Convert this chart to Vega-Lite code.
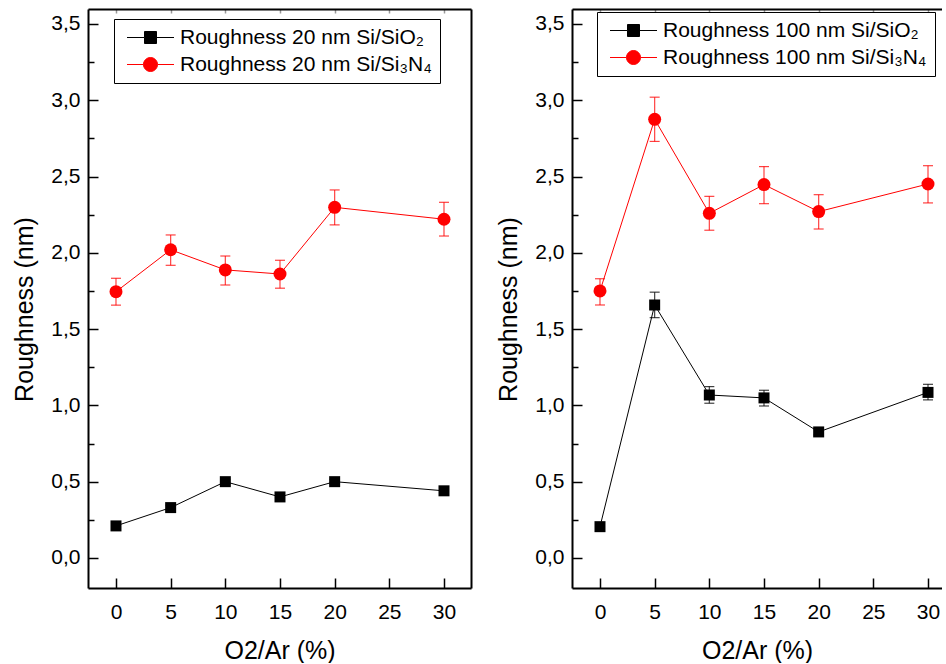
{
  "$schema": "https://vega.github.io/schema/vega-lite/v6.json",
  "background": "white",
  "padding": {"left": 12, "top": 8, "right": 0, "bottom": 0},
  "spacing": 25,
  "resolve": {
    "scale": {"x": "independent", "y": "independent", "color": "independent"},
    "legend": {"color": "independent"}
  },
  "hconcat": [
    {
      "width": 383,
      "height": 579,
      "data": {"values": [
        {"x": 0, "v": 0.21, "lo": 0.195, "hi": 0.225, "k": "a", "s": "Roughness 20 nm Si/SiO₂"},
        {"x": 5, "v": 0.33, "lo": 0.315, "hi": 0.345, "k": "a", "s": "Roughness 20 nm Si/SiO₂"},
        {"x": 10, "v": 0.50, "lo": 0.485, "hi": 0.515, "k": "a", "s": "Roughness 20 nm Si/SiO₂"},
        {"x": 15, "v": 0.40, "lo": 0.385, "hi": 0.415, "k": "a", "s": "Roughness 20 nm Si/SiO₂"},
        {"x": 20, "v": 0.50, "lo": 0.485, "hi": 0.515, "k": "a", "s": "Roughness 20 nm Si/SiO₂"},
        {"x": 30, "v": 0.44, "lo": 0.425, "hi": 0.455, "k": "a", "s": "Roughness 20 nm Si/SiO₂"},
        {"x": 0, "v": 1.745, "lo": 1.657, "hi": 1.833, "k": "b", "s": "Roughness 20 nm Si/Si₃N₄"},
        {"x": 5, "v": 2.02, "lo": 1.918, "hi": 2.117, "k": "b", "s": "Roughness 20 nm Si/Si₃N₄"},
        {"x": 10, "v": 1.888, "lo": 1.789, "hi": 1.979, "k": "b", "s": "Roughness 20 nm Si/Si₃N₄"},
        {"x": 15, "v": 1.861, "lo": 1.768, "hi": 1.951, "k": "b", "s": "Roughness 20 nm Si/Si₃N₄"},
        {"x": 20, "v": 2.298, "lo": 2.183, "hi": 2.412, "k": "b", "s": "Roughness 20 nm Si/Si₃N₄"},
        {"x": 30, "v": 2.22, "lo": 2.11, "hi": 2.331, "k": "b", "s": "Roughness 20 nm Si/Si₃N₄"}
      ]},
      "resolve": {"axis": {"x": "independent", "y": "independent"}},
      "layer": [
        {
          "transform": [{"filter": {"field": "k", "equal": "a"}}],
          "mark": {"type": "errorbar", "ticks": {"size": 10}, "thickness": 1.2, "opacity": 0.75, "color": "black"},
          "encoding": {
            "x": {"field": "x", "type": "quantitative", "scale": {"domain": [-2.56, 32.47], "nice": false, "zero": false}, "axis": null},
            "y": {"field": "lo", "type": "quantitative", "scale": {"domain": [-0.197, 3.598], "nice": false, "zero": false}, "axis": null},
            "y2": {"field": "hi"}
          }
        },
        {
          "transform": [{"filter": {"field": "k", "equal": "b"}}],
          "mark": {"type": "errorbar", "ticks": {"size": 10}, "thickness": 1.2, "opacity": 0.75, "color": "red"},
          "encoding": {
            "x": {"field": "x", "type": "quantitative", "axis": null},
            "y": {"field": "lo", "type": "quantitative", "axis": null},
            "y2": {"field": "hi"}
          }
        },
        {
          "mark": {"type": "line", "strokeWidth": 1},
          "encoding": {
            "x": {"field": "x", "type": "quantitative", "axis": null},
            "y": {"field": "v", "type": "quantitative", "axis": null},
            "color": {"field": "s", "type": "nominal", "scale": {"domain": ["Roughness 20 nm Si/SiO₂", "Roughness 20 nm Si/Si₃N₄"], "range": ["black", "red"]},
              "legend": {
                "orient": "none", "legendX": 26, "legendY": 10, "title": null,
                "strokeColor": "black", "fillColor": "white", "padding": 8, "rowPadding": 5,
                "labelFont": "Liberation Sans", "labelFontSize": 21, "labelColor": "black", "labelLimit": 0,
                "symbolSize": 400, "symbolStrokeWidth": 1, "symbolOffset": 18, "labelOffset": 19,
                "encode": {"symbols": {"update": {
                  "shape": {"signal": "indexof(datum.value, 'N₄') >= 0 ? 'M-2.35,0H-0.7A0.7,0.7,0,1,1,0.7,0A0.7,0.7,0,1,1,-0.7,0M0.7,0H2.35' : 'M-2.35,0H-0.6V-0.6H0.6V0.6H-0.6V0M0.6,0H2.35'"},
                  "fill": {"signal": "indexof(datum.value, 'N₄') >= 0 ? 'red' : 'black'"},
                  "stroke": {"signal": "indexof(datum.value, 'N₄') >= 0 ? 'red' : 'black'"},
                  "strokeWidth": {"value": 1},
                  "opacity": {"value": 1}
                }}}
              }
            }
          }
        },
        {
          "transform": [{"filter": {"field": "k", "equal": "a"}}],
          "mark": {"type": "point", "filled": true, "opacity": 1, "shape": "square", "size": 121, "color": "black"},
          "encoding": {
            "x": {"field": "x", "type": "quantitative", "axis": {"orient": "bottom", "values": [0, 5, 10, 15, 20, 25, 30], "tickSize": -10, "labelPadding": 23, "title": "O2/Ar (%)", "titlePadding": 16}},
            "y": {"field": "v", "type": "quantitative", "axis": {"orient": "left", "values": [0, 0.5, 1, 1.5, 2, 2.5, 3, 3.5], "tickSize": -10, "labelPadding": 18, "labelExpr": "replace(format(datum.value, '.1f'), '.', ',')", "title": "Roughness (nm)", "titlePadding": 13, "titleY": 300}}
          }
        },
        {
          "transform": [{"filter": {"field": "k", "equal": "b"}}],
          "mark": {"type": "point", "filled": true, "opacity": 1, "shape": "circle", "size": 169, "color": "red"},
          "encoding": {
            "x": {"field": "x", "type": "quantitative", "axis": null},
            "y": {"field": "v", "type": "quantitative", "axis": null}
          }
        },
        {
          "mark": {"type": "point", "opacity": 0},
          "encoding": {
            "x": {"field": "x", "type": "quantitative", "axis": {"orient": "top", "values": [0, 5, 10, 15, 20, 25, 30], "tickSize": -4, "tickColor": "#999999", "labels": false, "domain": true, "title": null}},
            "y": {"field": "v", "type": "quantitative", "axis": {"orient": "left", "values": [0.25, 0.75, 1.25, 1.75, 2.25, 2.75, 3.25], "tickSize": -6, "labels": false, "domain": false, "title": null}}
          }
        },
        {
          "mark": {"type": "point", "opacity": 0},
          "encoding": {
            "x": {"field": "x", "type": "quantitative", "axis": null},
            "y": {"field": "v", "type": "quantitative", "axis": {"orient": "right", "ticks": false, "labels": false, "domain": true, "title": null}}
          }
        }
      ]
    },
    {
      "width": 370,
      "height": 579,
      "data": {"values": [
        {"x": 0, "v": 0.205, "lo": 0.195, "hi": 0.215, "k": "a", "s": "Roughness 100 nm Si/SiO₂"},
        {"x": 5, "v": 1.658, "lo": 1.575, "hi": 1.742, "k": "a", "s": "Roughness 100 nm Si/SiO₂"},
        {"x": 10, "v": 1.068, "lo": 1.014, "hi": 1.123, "k": "a", "s": "Roughness 100 nm Si/SiO₂"},
        {"x": 15, "v": 1.049, "lo": 0.996, "hi": 1.099, "k": "a", "s": "Roughness 100 nm Si/SiO₂"},
        {"x": 20, "v": 0.826, "lo": 0.806, "hi": 0.846, "k": "a", "s": "Roughness 100 nm Si/SiO₂"},
        {"x": 30, "v": 1.085, "lo": 1.036, "hi": 1.138, "k": "a", "s": "Roughness 100 nm Si/SiO₂"},
        {"x": 0, "v": 1.75, "lo": 1.658, "hi": 1.83, "k": "b", "s": "Roughness 100 nm Si/Si₃N₄"},
        {"x": 5, "v": 2.875, "lo": 2.73, "hi": 3.02, "k": "b", "s": "Roughness 100 nm Si/Si₃N₄"},
        {"x": 10, "v": 2.259, "lo": 2.148, "hi": 2.37, "k": "b", "s": "Roughness 100 nm Si/Si₃N₄"},
        {"x": 15, "v": 2.447, "lo": 2.322, "hi": 2.565, "k": "b", "s": "Roughness 100 nm Si/Si₃N₄"},
        {"x": 20, "v": 2.27, "lo": 2.156, "hi": 2.381, "k": "b", "s": "Roughness 100 nm Si/Si₃N₄"},
        {"x": 30, "v": 2.451, "lo": 2.327, "hi": 2.571, "k": "b", "s": "Roughness 100 nm Si/Si₃N₄"}
      ]},
      "resolve": {"axis": {"x": "independent", "y": "independent"}},
      "layer": [
        {
          "transform": [{"filter": {"field": "k", "equal": "a"}}],
          "mark": {"type": "errorbar", "ticks": {"size": 10}, "thickness": 1.2, "opacity": 0.75, "color": "black"},
          "encoding": {
            "x": {"field": "x", "type": "quantitative", "scale": {"domain": [-2.56, 31.28], "nice": false, "zero": false}, "axis": null},
            "y": {"field": "lo", "type": "quantitative", "scale": {"domain": [-0.197, 3.598], "nice": false, "zero": false}, "axis": null},
            "y2": {"field": "hi"}
          }
        },
        {
          "transform": [{"filter": {"field": "k", "equal": "b"}}],
          "mark": {"type": "errorbar", "ticks": {"size": 10}, "thickness": 1.2, "opacity": 0.75, "color": "red"},
          "encoding": {
            "x": {"field": "x", "type": "quantitative", "axis": null},
            "y": {"field": "lo", "type": "quantitative", "axis": null},
            "y2": {"field": "hi"}
          }
        },
        {
          "mark": {"type": "line", "strokeWidth": 1},
          "encoding": {
            "x": {"field": "x", "type": "quantitative", "axis": null},
            "y": {"field": "v", "type": "quantitative", "axis": null},
            "color": {"field": "s", "type": "nominal", "scale": {"domain": ["Roughness 100 nm Si/SiO₂", "Roughness 100 nm Si/Si₃N₄"], "range": ["black", "red"]},
              "legend": {
                "orient": "none", "legendX": 25, "legendY": 3, "title": null,
                "strokeColor": "black", "fillColor": "white", "padding": 8, "rowPadding": 5,
                "labelFont": "Liberation Sans", "labelFontSize": 21, "labelColor": "black", "labelLimit": 0,
                "symbolSize": 400, "symbolStrokeWidth": 1, "symbolOffset": 18, "labelOffset": 19,
                "encode": {"symbols": {"update": {
                  "shape": {"signal": "indexof(datum.value, 'N₄') >= 0 ? 'M-2.35,0H-0.7A0.7,0.7,0,1,1,0.7,0A0.7,0.7,0,1,1,-0.7,0M0.7,0H2.35' : 'M-2.35,0H-0.6V-0.6H0.6V0.6H-0.6V0M0.6,0H2.35'"},
                  "fill": {"signal": "indexof(datum.value, 'N₄') >= 0 ? 'red' : 'black'"},
                  "stroke": {"signal": "indexof(datum.value, 'N₄') >= 0 ? 'red' : 'black'"},
                  "strokeWidth": {"value": 1},
                  "opacity": {"value": 1}
                }}}
              }
            }
          }
        },
        {
          "transform": [{"filter": {"field": "k", "equal": "a"}}],
          "mark": {"type": "point", "filled": true, "opacity": 1, "shape": "square", "size": 121, "color": "black"},
          "encoding": {
            "x": {"field": "x", "type": "quantitative", "axis": {"orient": "bottom", "values": [0, 5, 10, 15, 20, 25, 30], "tickSize": -10, "labelPadding": 23, "title": "O2/Ar (%)", "titlePadding": 16}},
            "y": {"field": "v", "type": "quantitative", "axis": {"orient": "left", "values": [0, 0.5, 1, 1.5, 2, 2.5, 3, 3.5], "tickSize": -10, "labelPadding": 18, "labelExpr": "replace(format(datum.value, '.1f'), '.', ',')", "title": "Roughness (nm)", "titlePadding": 13, "titleY": 300}}
          }
        },
        {
          "transform": [{"filter": {"field": "k", "equal": "b"}}],
          "mark": {"type": "point", "filled": true, "opacity": 1, "shape": "circle", "size": 169, "color": "red"},
          "encoding": {
            "x": {"field": "x", "type": "quantitative", "axis": null},
            "y": {"field": "v", "type": "quantitative", "axis": null}
          }
        },
        {
          "mark": {"type": "point", "opacity": 0},
          "encoding": {
            "x": {"field": "x", "type": "quantitative", "axis": {"orient": "top", "values": [0, 5, 10, 15, 20, 25, 30], "tickSize": -4, "tickColor": "#999999", "labels": false, "domain": true, "title": null}},
            "y": {"field": "v", "type": "quantitative", "axis": {"orient": "left", "values": [0.25, 0.75, 1.25, 1.75, 2.25, 2.75, 3.25], "tickSize": -6, "labels": false, "domain": false, "title": null}}
          }
        }
      ]
    }
  ],
  "config": {
    "view": {"stroke": null},
    "font": "Liberation Sans",
    "axis": {
      "grid": false,
      "labelFont": "Liberation Sans", "labelFontSize": 21, "labelColor": "black",
      "titleFont": "Liberation Sans", "titleFontSize": 25, "titleFontWeight": "normal", "titleColor": "black",
      "domainColor": "black", "tickColor": "black", "domainWidth": 2, "tickWidth": 1.5,
      "labelOverlap": false, "labelFlush": false
    }
  }
}
